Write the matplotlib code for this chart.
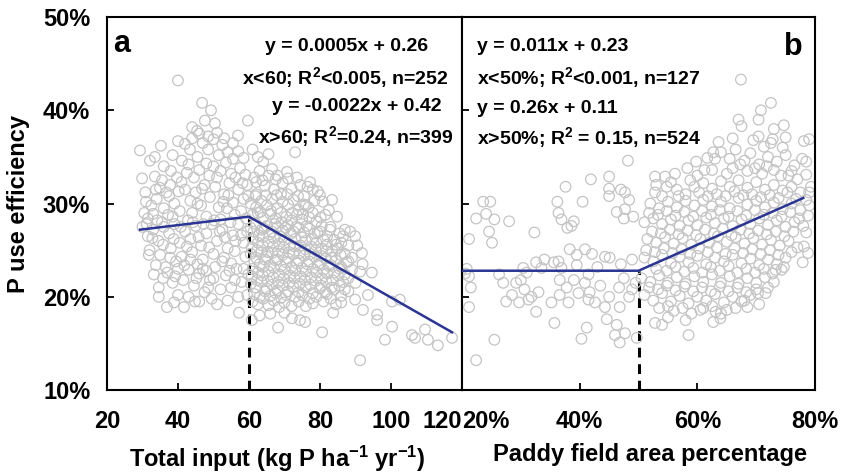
import numpy as np
from matplotlib import pyplot as plt
from matplotlib.ticker import FixedLocator, FuncFormatter

plt.rcParams['font.family'] = ['Liberation Sans', 'DejaVu Sans']
plt.rcParams['font.weight'] = 'bold'
plt.rcParams['mathtext.fontset'] = 'custom'
plt.rcParams['mathtext.rm'] = 'Liberation Sans:bold'
plt.rcParams['mathtext.bf'] = 'Liberation Sans:bold'
plt.rcParams['mathtext.default'] = 'rm'

# panel a: total P input (kg P/ha/yr) vs P use efficiency (%)
input_low = [
    (29.3, 35.7), (35.2, 36.2), (40.0, 36.7), (43.4, 35.8), (44.0, 38.2), (45.4, 37.8), (46.8, 40.8),
    (47.6, 38.9), (49.3, 40.0), (50.4, 38.6), (40.0, 43.2), (56.9, 37.3), (59.7, 38.9), (32.1, 34.6),
    (41.1, 34.6), (47.0, 36.5), (48.5, 35.8), (50.0, 36.9), (51.5, 35.2), (52.5, 36.3), (54.0, 35.5),
    (55.5, 34.8), (57.0, 35.6), (58.5, 34.9), (45.5, 35.0), (43.0, 34.2), (46.0, 33.6), (48.0, 34.3),
    (50.0, 34.0), (52.0, 33.5), (53.5, 34.4), (55.0, 33.2), (57.5, 33.8), (59.0, 33.1), (38.0, 33.5),
    (36.0, 34.0), (44.5, 32.8),
    (29.9, 32.7), (33.5, 32.9), (39.7, 32.8), (34.9, 31.7), (31.0, 30.2), (32.5, 29.8), (34.0, 30.5),
    (36.0, 29.5), (37.5, 30.8), (39.0, 30.0), (40.5, 29.2), (42.0, 31.5), (43.5, 30.3), (45.0, 31.2),
    (46.5, 29.8), (47.5, 32.0), (49.0, 30.7), (50.5, 31.8), (51.5, 29.6), (53.0, 31.0), (54.5, 32.2),
    (55.5, 30.1), (57.0, 31.5), (58.5, 30.5), (59.5, 32.0), (41.0, 32.3), (44.0, 29.0), (48.0, 28.6),
    (52.0, 28.3), (56.0, 28.8), (31.5, 28.4), (33.0, 28.9), (35.5, 28.0), (38.5, 28.6), (30.5, 29.0),
    (36.8, 31.2), (42.8, 28.2), (53.8, 29.5), (57.8, 29.2),
    (30.0, 27.5), (31.5, 26.5), (33.0, 27.2), (34.5, 26.0), (36.0, 27.5), (37.5, 26.8), (39.0, 27.8),
    (40.5, 25.8), (42.0, 27.0), (43.5, 26.2), (45.0, 27.6), (46.5, 25.5), (48.0, 26.8), (49.5, 27.8),
    (51.0, 26.0), (52.5, 27.2), (54.0, 25.2), (55.5, 26.6), (57.0, 27.8), (58.5, 25.8), (59.5, 27.0),
    (32.0, 25.0), (35.0, 24.5), (38.0, 25.2), (41.0, 24.3), (44.0, 24.8), (47.0, 24.0), (50.0, 24.6),
    (53.0, 24.2), (56.0, 24.9), (59.0, 24.3), (31.8, 24.5), (36.5, 23.2),
    (33.2, 22.4), (34.6, 21.0), (34.6, 20.0), (36.9, 18.9), (38.9, 19.4), (41.7, 18.9), (44.8, 19.5),
    (57.2, 18.3), (37.0, 22.6), (38.5, 21.5), (40.0, 23.0), (41.5, 21.8), (43.0, 22.9), (44.5, 21.2),
    (46.0, 22.5), (47.5, 20.5), (49.0, 21.8), (50.5, 23.2), (52.0, 20.8), (53.5, 22.3), (55.0, 21.0),
    (56.5, 23.0), (58.0, 21.6), (59.5, 20.2), (40.0, 20.2), (43.0, 20.0), (46.0, 19.5), (49.5, 19.8),
    (51.0, 19.2), (54.0, 19.6), (57.0, 20.0), (39.5, 23.8), (45.5, 23.5), (48.0, 22.8), (55.0, 23.6),
    (30.8, 31.2), (33.8, 31.5), (35.5, 32.5), (37.8, 32.0), (40.2, 31.3), (42.5, 33.3), (45.5, 30.0),
    (46.8, 31.6), (48.8, 33.0), (51.0, 32.8), (52.8, 30.2), (54.2, 30.9), (56.2, 32.8), (58.2, 32.2),
    (59.8, 30.8), (31.2, 27.8), (32.8, 26.3), (34.2, 28.2), (35.8, 25.6), (37.2, 28.8), (38.8, 26.2),
    (40.8, 27.5), (42.5, 25.4), (44.2, 28.0), (45.8, 26.4), (47.2, 27.8), (48.8, 25.3), (50.2, 28.2),
    (51.8, 27.0), (53.2, 26.4), (54.8, 28.0), (56.2, 26.0), (57.8, 26.6), (59.2, 28.4),
    (33.8, 23.4), (35.8, 22.0), (37.8, 24.2), (39.2, 22.2), (41.8, 23.4), (43.5, 24.0), (45.2, 22.0),
    (47.0, 23.0), (48.5, 21.0), (50.0, 22.0), (52.5, 23.8), (54.5, 22.8), (56.0, 21.8), (58.5, 23.0),
    (59.8, 22.4), (44.0, 37.0), (46.0, 37.5), (48.5, 37.2), (51.0, 37.6), (53.0, 37.0), (55.5, 36.5),
    (42.0, 36.4), (38.5, 35.2), (33.5, 35.0),
]
input_high = [
    (73.0, 35.5), (70.7, 33.4), (66.5, 33.7), (77.2, 32.3), (74.4, 32.0), (79.4, 31.3), (83.4, 30.4),
    (80.8, 30.2), (84.8, 28.6), (87.0, 27.2), (89.9, 26.5), (61.0, 35.8), (62.5, 35.0), (64.0, 34.5),
    (65.5, 35.3), (63.0, 33.5), (61.5, 32.8), (68.0, 33.0), (69.5, 32.2), (72.0, 31.6), (75.5, 30.8),
    (67.0, 31.5), (64.5, 31.9), (62.0, 31.0), (76.0, 29.8), (78.0, 29.0), (81.5, 28.8), (83.0, 27.5),
    (85.5, 26.8), (88.0, 25.5),
    (60.5, 30.0), (62.0, 29.6), (63.5, 30.3), (65.0, 29.8), (66.5, 30.5), (68.0, 29.5), (69.5, 30.2),
    (71.0, 29.9), (72.5, 30.4), (74.0, 29.3), (75.5, 29.9),
    (61.0, 28.8), (62.5, 29.0), (64.0, 28.5), (66.0, 28.9), (67.5, 28.4), (69.0, 29.0), (70.5, 28.6),
    (72.0, 28.2), (73.5, 28.8), (75.0, 28.3), (77.0, 28.5), (79.0, 28.1), (80.5, 27.6),
    (60.5, 27.4), (62.0, 27.8), (63.5, 27.2), (65.0, 27.6), (66.5, 27.0), (68.0, 27.5), (69.5, 27.1),
    (71.0, 27.7), (72.5, 27.0), (74.0, 27.4), (75.5, 26.9), (77.0, 27.3), (78.5, 26.8), (80.0, 27.0),
    (82.0, 26.5), (84.0, 26.1), (86.0, 25.8),
    (61.0, 26.2), (62.5, 25.8), (64.0, 26.4), (65.5, 25.9), (67.0, 26.3), (68.5, 25.7), (70.0, 26.1),
    (71.5, 25.6), (73.0, 26.2), (74.5, 25.5), (76.0, 26.0), (77.5, 25.4), (79.0, 25.8), (80.5, 25.2),
    (82.0, 25.6), (83.5, 24.9), (85.0, 25.2), (87.0, 24.6), (89.0, 24.2),
    (60.5, 24.6), (62.0, 24.2), (63.5, 24.8), (65.0, 24.3), (66.5, 24.7), (68.0, 24.0), (69.5, 24.5),
    (71.0, 24.1), (72.5, 24.6), (74.0, 23.9), (75.5, 24.4), (77.0, 23.8), (78.5, 24.3), (80.0, 23.6),
    (81.5, 24.1), (83.0, 23.4), (84.5, 23.9), (86.0, 23.2), (87.5, 23.7), (89.0, 22.9),
    (61.0, 23.0), (62.5, 22.6), (64.0, 23.2), (65.5, 22.7), (67.0, 23.1), (68.5, 22.4), (70.0, 22.9),
    (71.5, 22.3), (73.0, 22.8), (74.5, 22.2), (76.0, 22.7), (77.5, 22.1), (79.0, 22.6), (80.5, 22.0),
    (82.0, 22.5), (83.5, 21.8), (85.0, 22.3), (86.5, 21.6), (88.0, 22.0),
    (60.5, 21.4), (62.0, 21.0), (63.5, 21.6), (65.0, 20.9), (66.5, 21.3), (68.0, 20.7), (69.5, 21.2),
    (71.0, 20.6), (72.5, 21.1), (74.0, 20.5), (76.0, 21.0), (78.0, 20.4), (80.0, 20.9), (82.0, 20.3),
    (84.0, 20.8), (86.0, 20.1), (88.0, 20.6), (89.9, 19.7), (87.0, 20.8), (92.1, 18.6),
    (61.0, 19.5), (62.5, 19.2), (64.0, 19.8), (65.5, 19.1), (67.0, 19.6), (68.5, 18.9), (70.0, 19.4),
    (72.0, 19.0), (74.0, 19.5), (76.0, 19.0), (78.0, 19.3), (81.0, 19.5), (83.7, 18.3), (84.5, 19.2),
    (60.8, 17.5), (68.2, 16.7), (80.6, 16.2), (91.3, 13.2), (98.3, 15.4), (100.3, 16.8), (96.1, 17.5),
    (96.1, 18.1), (105.9, 15.9), (106.8, 15.6), (109.6, 16.5), (110.4, 15.4), (113.2, 14.8),
    (117.2, 15.6), (102.5, 19.7), (100.3, 19.5), (93.5, 20.2), (91.3, 22.7), (94.6, 22.6), (91.8, 24.7),
    (74.4, 17.5), (75.8, 17.3), (72.1, 17.7), (66.0, 18.2), (63.0, 18.0), (70.0, 18.3), (90.0, 21.5),
    (92.0, 23.5), (90.5, 25.5), (88.5, 27.0),
    (61.8, 30.8), (63.2, 29.1), (64.8, 30.9), (66.2, 29.2), (67.8, 30.9), (69.2, 28.0), (70.8, 31.0),
    (72.2, 29.0), (73.8, 30.8), (75.2, 28.9), (76.8, 29.6), (78.5, 30.3), (80.2, 28.5), (82.5, 29.3),
    (61.3, 27.0), (62.8, 26.6), (64.3, 27.3), (65.8, 26.7), (67.3, 27.8), (68.8, 26.5), (70.3, 27.4),
    (71.8, 26.8), (73.3, 27.5), (74.8, 26.4), (76.3, 27.6), (77.8, 26.2), (79.3, 26.9), (81.0, 26.1),
    (82.8, 27.2), (84.5, 25.6), (86.5, 26.5),
    (60.8, 25.3), (62.3, 25.0), (63.8, 25.5), (65.3, 24.8), (66.8, 25.4), (68.3, 24.9), (69.8, 25.3),
    (71.3, 24.8), (72.8, 25.4), (74.3, 24.7), (75.8, 25.1), (77.3, 24.6), (78.8, 25.0), (80.3, 24.4),
    (81.8, 24.9), (83.3, 24.2), (85.8, 24.5), (88.0, 23.8),
    (61.5, 23.8), (63.0, 23.5), (64.5, 24.0), (66.0, 23.4), (67.5, 23.9), (69.0, 23.3), (70.5, 23.7),
    (72.0, 23.2), (73.5, 23.6), (75.0, 23.1), (76.5, 23.5), (78.0, 23.0), (79.5, 23.4), (81.0, 22.9),
    (82.5, 23.3), (84.0, 22.6), (85.5, 23.0), (87.0, 22.4),
    (60.8, 22.2), (62.3, 21.8), (63.8, 22.3), (65.3, 21.7), (66.8, 22.1), (68.3, 21.6), (69.8, 22.0),
    (71.3, 21.5), (72.8, 22.0), (74.3, 21.4), (75.8, 21.8), (77.3, 21.3), (78.8, 21.7), (80.3, 21.2),
    (81.8, 21.6), (83.3, 21.0), (85.5, 21.2),
    (61.5, 20.3), (63.0, 20.0), (64.5, 20.6), (66.0, 20.1), (67.5, 20.4), (69.0, 19.9), (70.5, 20.2),
    (73.0, 20.0), (75.0, 20.2), (77.0, 19.8), (79.0, 20.0), (81.5, 20.5), (83.0, 19.8), (86.0, 19.4),
    (62.0, 32.3), (63.8, 32.5), (65.5, 33.0), (67.5, 32.6), (69.0, 31.0), (71.0, 32.7), (73.5, 32.8),
    (76.5, 31.8), (78.0, 31.5), (80.0, 30.9),
]
# fitted segments of panel a (x, y%)
fit_a_x = [29.3, 60.0, 117.2]
fit_a_y = [27.2, 28.6, 16.2]
break_a = 60

# panel b: paddy field area (%) vs P use efficiency (%)
paddy_low = [
    (48.2, 34.6), (45.0, 32.9), (41.9, 32.6), (37.6, 31.8), (40.5, 30.2), (36.2, 30.2), (36.4, 29.0),
    (36.9, 28.3), (37.9, 27.4), (39.0, 28.1), (38.6, 27.6), (45.0, 31.6), (45.0, 30.8), (47.0, 31.5),
    (47.7, 31.2), (48.4, 30.4), (46.3, 29.1), (47.7, 29.4), (47.5, 28.4), (49.1, 28.6), (23.6, 30.2),
    (24.8, 30.2), (22.4, 28.4), (24.1, 28.9), (25.5, 28.3), (28.0, 28.1), (24.6, 27.0), (25.1, 25.8),
    (21.2, 26.2), (32.3, 26.9),
    (30.4, 23.1), (32.6, 23.7), (33.5, 23.1), (35.6, 23.7), (36.4, 23.8), (36.9, 23.1), (38.3, 25.1),
    (39.5, 24.5), (40.9, 25.1), (42.1, 24.6), (39.5, 23.4), (44.3, 24.3), (45.1, 24.2), (48.9, 24.0),
    (41.5, 22.4), (20.8, 23.0), (20.5, 22.5), (34.0, 24.0), (31.0, 22.6), (43.0, 23.2), (47.0, 23.5),
    (21.2, 22.2), (21.5, 21.0), (21.2, 18.9), (26.3, 22.4), (27.0, 21.5), (27.5, 19.5), (29.2, 21.5),
    (29.7, 19.4), (30.6, 20.8), (31.3, 19.7), (31.8, 20.0), (33.0, 20.5), (32.6, 18.4), (35.2, 19.4),
    (36.6, 21.8), (36.6, 20.2), (38.1, 19.4), (37.8, 21.0), (39.0, 21.8), (39.8, 20.4), (40.9, 21.5),
    (41.5, 19.7), (42.6, 19.4), (41.7, 20.5), (44.3, 18.9), (45.0, 20.0), (46.7, 21.0), (46.8, 18.9),
    (48.4, 20.0), (48.9, 20.8), (28.5, 20.2), (30.0, 21.8), (43.5, 21.2), (47.5, 22.0), (49.5, 21.5),
    (35.7, 17.2), (41.2, 16.7), (40.3, 15.5), (44.6, 17.6), (46.3, 17.0), (46.0, 15.9), (47.7, 16.1),
    (46.8, 15.1), (25.5, 15.4), (22.4, 13.2), (49.7, 15.6),
]
paddy_high = [
    (67.4, 43.3), (72.5, 40.8), (70.8, 40.0), (67.0, 39.0), (67.5, 38.3), (70.4, 39.0), (73.0, 38.0),
    (74.7, 38.4), (75.0, 37.1), (78.1, 36.7), (79.0, 36.9), (70.4, 37.2), (71.3, 36.1), (72.8, 36.9),
    (63.6, 36.6), (62.7, 35.5), (61.7, 34.9), (52.8, 32.9), (54.5, 32.9), (78.5, 34.5), (78.5, 33.1),
    (79.3, 31.8), (79.0, 31.2), (78.5, 30.4), (78.5, 26.9), (78.1, 25.4), (77.9, 23.7), (78.8, 24.7),
    (74.7, 23.2), (73.3, 22.9), (71.6, 20.4), (70.3, 20.4), (68.5, 18.9), (62.7, 17.3), (63.9, 17.7),
    (63.1, 18.4), (58.5, 15.9), (54.0, 17.0), (52.8, 17.2),
    (64.0, 35.5), (65.5, 34.8), (66.5, 35.8), (68.0, 34.6), (69.0, 35.4), (70.5, 34.2), (72.0, 35.0),
    (73.5, 34.5), (75.0, 35.2), (76.5, 34.1), (66.0, 33.8), (68.5, 33.5), (71.0, 33.2), (73.0, 33.6),
    (75.5, 33.0), (77.0, 32.6), (62.5, 33.6), (60.0, 33.0),
    (55.5, 32.3), (56.5, 31.5), (58.0, 31.0), (59.5, 31.8), (61.0, 32.2), (62.5, 31.6), (64.0, 32.4),
    (65.5, 31.8), (67.0, 32.5), (68.5, 31.7), (70.0, 32.3), (71.5, 31.5), (73.0, 32.0), (74.5, 31.4),
    (76.0, 31.8), (77.5, 31.2), (54.0, 30.8), (53.0, 32.0),
    (52.0, 30.0), (53.5, 29.5), (55.0, 30.2), (56.5, 29.6), (58.0, 30.3), (59.5, 29.8), (61.0, 30.4),
    (62.5, 29.7), (64.0, 30.2), (65.5, 29.5), (67.0, 30.6), (68.5, 29.9), (70.0, 30.3), (71.5, 29.6),
    (73.0, 30.1), (74.5, 29.4), (76.0, 30.0), (77.5, 29.3), (79.0, 29.8),
    (51.0, 28.0), (52.5, 28.4), (54.0, 27.8), (55.5, 28.3), (57.0, 27.6), (58.5, 28.2), (60.0, 27.7),
    (61.5, 28.5), (63.0, 27.9), (64.5, 28.4), (66.0, 27.6), (67.5, 28.3), (69.0, 27.8), (70.5, 28.4),
    (72.0, 27.7), (73.5, 28.2), (75.0, 27.5), (76.5, 28.0), (78.0, 27.6),
    (51.5, 26.2), (53.0, 25.8), (54.5, 26.4), (56.0, 25.7), (57.5, 26.3), (59.0, 25.6), (60.5, 26.2),
    (62.0, 25.8), (63.5, 26.5), (65.0, 25.9), (66.5, 26.4), (68.0, 25.7), (69.5, 26.3), (71.0, 25.6),
    (72.5, 26.1), (74.0, 25.5), (75.5, 26.0), (77.0, 25.3),
    (51.0, 24.2), (52.5, 23.8), (54.0, 24.5), (55.5, 23.6), (57.0, 24.3), (58.5, 23.7), (60.0, 24.4),
    (61.5, 23.5), (63.0, 24.2), (64.5, 23.8), (66.0, 24.5), (67.5, 23.6), (69.0, 24.1), (70.5, 23.4),
    (72.0, 24.0), (73.5, 23.5), (75.0, 24.2),
    (50.5, 22.0), (52.0, 21.6), (53.5, 22.3), (55.0, 21.5), (56.5, 22.1), (58.0, 21.4), (59.5, 22.2),
    (61.0, 21.6), (62.5, 22.4), (64.0, 21.5), (65.5, 22.2), (67.0, 21.4), (68.5, 22.0), (70.0, 21.5),
    (71.5, 22.1), (73.0, 21.6),
    (51.0, 20.2), (52.5, 19.6), (54.0, 20.4), (55.5, 19.5), (57.0, 20.1), (58.5, 19.3), (60.0, 20.0),
    (61.5, 19.6), (63.0, 20.3), (64.5, 19.4), (66.0, 20.0), (67.5, 19.5), (69.0, 20.2), (56.0, 18.5),
    (59.0, 18.2), (61.0, 18.8), (65.0, 18.6),
    (56.2, 33.2), (58.3, 33.8), (59.8, 34.5), (61.2, 33.6), (63.0, 34.8), (65.0, 33.2), (67.3, 34.2),
    (69.8, 33.8), (71.8, 34.0), (74.2, 33.0), (76.0, 33.5), (77.8, 34.8), (72.5, 36.5), (69.5, 36.8),
    (66.0, 37.0), (74.5, 36.0),
    (52.8, 31.2), (54.8, 31.8), (56.8, 30.8), (58.8, 32.5), (60.3, 31.2), (61.8, 30.8), (63.3, 31.0),
    (64.8, 30.8), (66.3, 31.3), (67.8, 30.9), (69.3, 31.0), (70.8, 30.7), (72.3, 30.9), (73.8, 30.6),
    (75.3, 31.2), (76.8, 30.5),
    (51.8, 29.0), (53.3, 28.8), (54.8, 29.2), (56.3, 28.7), (57.8, 29.1), (59.3, 28.6), (60.8, 29.2),
    (62.3, 28.8), (63.8, 29.3), (65.3, 28.6), (66.8, 29.2), (68.3, 28.7), (69.8, 29.3), (71.3, 28.8),
    (72.8, 29.0), (74.3, 28.6), (75.8, 29.1), (77.3, 28.4), (78.8, 28.7),
    (52.3, 27.0), (53.8, 26.8), (55.3, 27.2), (56.8, 26.7), (58.3, 27.1), (59.8, 26.6), (61.3, 27.2),
    (62.8, 26.8), (64.3, 27.3), (65.8, 26.6), (67.3, 27.2), (68.8, 26.8), (70.3, 27.1), (71.8, 26.7),
    (73.3, 27.0), (74.8, 26.5), (76.3, 27.0),
    (51.3, 25.0), (52.8, 24.8), (54.3, 25.2), (55.8, 24.7), (57.3, 25.1), (58.8, 24.6), (60.3, 25.2),
    (61.8, 24.8), (63.3, 25.3), (64.8, 24.6), (66.3, 25.2), (67.8, 24.7), (69.3, 25.1), (70.8, 24.6),
    (72.3, 25.0), (73.8, 24.5), (76.0, 24.8),
    (53.0, 23.0), (54.8, 22.8), (56.3, 23.2), (57.8, 22.7), (59.3, 23.1), (60.8, 22.6), (62.3, 23.2),
    (63.8, 22.8), (65.3, 23.3), (66.8, 22.6), (68.3, 23.0), (69.8, 22.6), (71.3, 23.0), (72.8, 22.5),
    (74.3, 22.9),
    (51.8, 21.0), (53.3, 20.8), (54.8, 21.2), (56.3, 20.7), (57.8, 21.1), (59.3, 20.6), (60.8, 21.0),
    (62.3, 20.6), (63.8, 21.1), (65.3, 20.6), (66.8, 21.0), (68.3, 20.5), (70.0, 20.8), (72.0, 21.0),
    (53.5, 18.8), (55.0, 19.0), (57.5, 18.8), (60.5, 18.6), (62.5, 19.0), (64.0, 18.2), (66.5, 18.8),
    (68.0, 19.6), (70.5, 19.2), (58.0, 17.5), (55.0, 17.8),
]
fit_b_x = [20.0, 50.0, 78.0]
fit_b_y = [22.8, 22.8, 30.6]
break_b = 50

y_ticks = [10, 20, 30, 40, 50]
a_ticks = [20, 40, 60, 80, 100, 120]
b_ticks = [20, 40, 60, 80]

POINT_COLOR = '#c4c4c4'
LINE_COLOR = '#2b3593'


def _style_axes(ax):
    for sp in ax.spines.values():
        sp.set_linewidth(1.5)
        sp.set_color('black')
    ax.tick_params(direction='in', length=5, width=1.3, labelsize=17)
    ax.tick_params(axis='x', pad=14)
    ax.tick_params(axis='y', pad=12)
    ax.set_ylim(10, 50)
    ax.yaxis.set_major_locator(FixedLocator(y_ticks))


def _draw_panel(ax, low, high, fit_x, fit_y, brk):
    pts = np.array(low + high)
    ax.plot([brk, brk], [10, fit_y[1]], color='black', linewidth=2.2,
            dashes=(3.2, 2.2), zorder=1)
    ax.scatter(pts[:, 0], pts[:, 1], s=58, facecolors='none',
               edgecolors=POINT_COLOR, linewidths=0.9, zorder=2)
    ax.plot(fit_x, fit_y, color=LINE_COLOR, linewidth=1.8, zorder=3)


fig = plt.figure(figsize=(8.42, 4.74), dpi=100)
ax_a = fig.add_axes([0.127, 0.177, 0.4217, 0.787])
ax_b = fig.add_axes([0.5487, 0.177, 0.4193, 0.787])

# panel a
_draw_panel(ax_a, input_low, input_high, fit_a_x, fit_a_y, break_a)
_style_axes(ax_a)
ax_a.set_xlim(20, 120)
ax_a.xaxis.set_major_locator(FixedLocator(a_ticks))
ax_a.yaxis.set_major_formatter(FuncFormatter(lambda v, p: f'{v:.0f}%'))
ax_a.set_ylabel('P use efficiency', fontsize=17, fontweight='bold', labelpad=9)
ax_a.set_xlabel('Total input (kg P ha$^{-1}$ yr$^{-1}$)', fontsize=17, fontweight='bold')
ax_a.xaxis.set_label_coords(0.479, -0.143)
ax_a.get_xticklabels()[-1].set_ha('right')

kw = dict(transform=ax_a.transAxes, fontsize=14, fontweight='bold', ha='center', va='center')
ax_a.text(0.04, 0.928, 'a', transform=ax_a.transAxes, fontsize=22, fontweight='bold',
          ha='center', va='center')
ax_a.text(0.676, 0.92, 'y = 0.0005x + 0.26', **kw)
ax_a.text(0.670, 0.839, 'x<60; R$^{2}$<0.005, n=252', **kw)
ax_a.text(0.704, 0.761, 'y = -0.0022x + 0.42', **kw)
ax_a.text(0.701, 0.681, 'x>60; R$^{2}$=0.24, n=399', **kw)

# panel b
_draw_panel(ax_b, paddy_low, paddy_high, fit_b_x, fit_b_y, break_b)
_style_axes(ax_b)
ax_b.set_xlim(20, 80)
ax_b.xaxis.set_major_locator(FixedLocator(b_ticks))
ax_b.xaxis.set_major_formatter(FuncFormatter(lambda v, p: f'{v:.0f}%'))
ax_b.set_yticklabels([])
ax_b.set_xlabel('Paddy field area percentage', fontsize=17, fontweight='bold')
ax_b.xaxis.set_label_coords(0.532, -0.143)
ax_b.get_xticklabels()[0].set_ha('left')

kw['transform'] = ax_b.transAxes
kw['ha'] = 'left'
ax_b.text(0.042, 0.92, 'y = 0.011x + 0.23', **kw)
ax_b.text(0.042, 0.839, 'x<50%; R$^{2}$<0.001, n=127', **kw)
ax_b.text(0.042, 0.756, 'y = 0.26x + 0.11', **kw)
ax_b.text(0.042, 0.678, 'x>50%; R$^{2}$ = 0.15, n=524', **kw)
ax_b.text(0.938, 0.92, 'b', transform=ax_b.transAxes, fontsize=22, fontweight='bold',
          ha='center', va='center')

fig.savefig('out.png', dpi=100)
